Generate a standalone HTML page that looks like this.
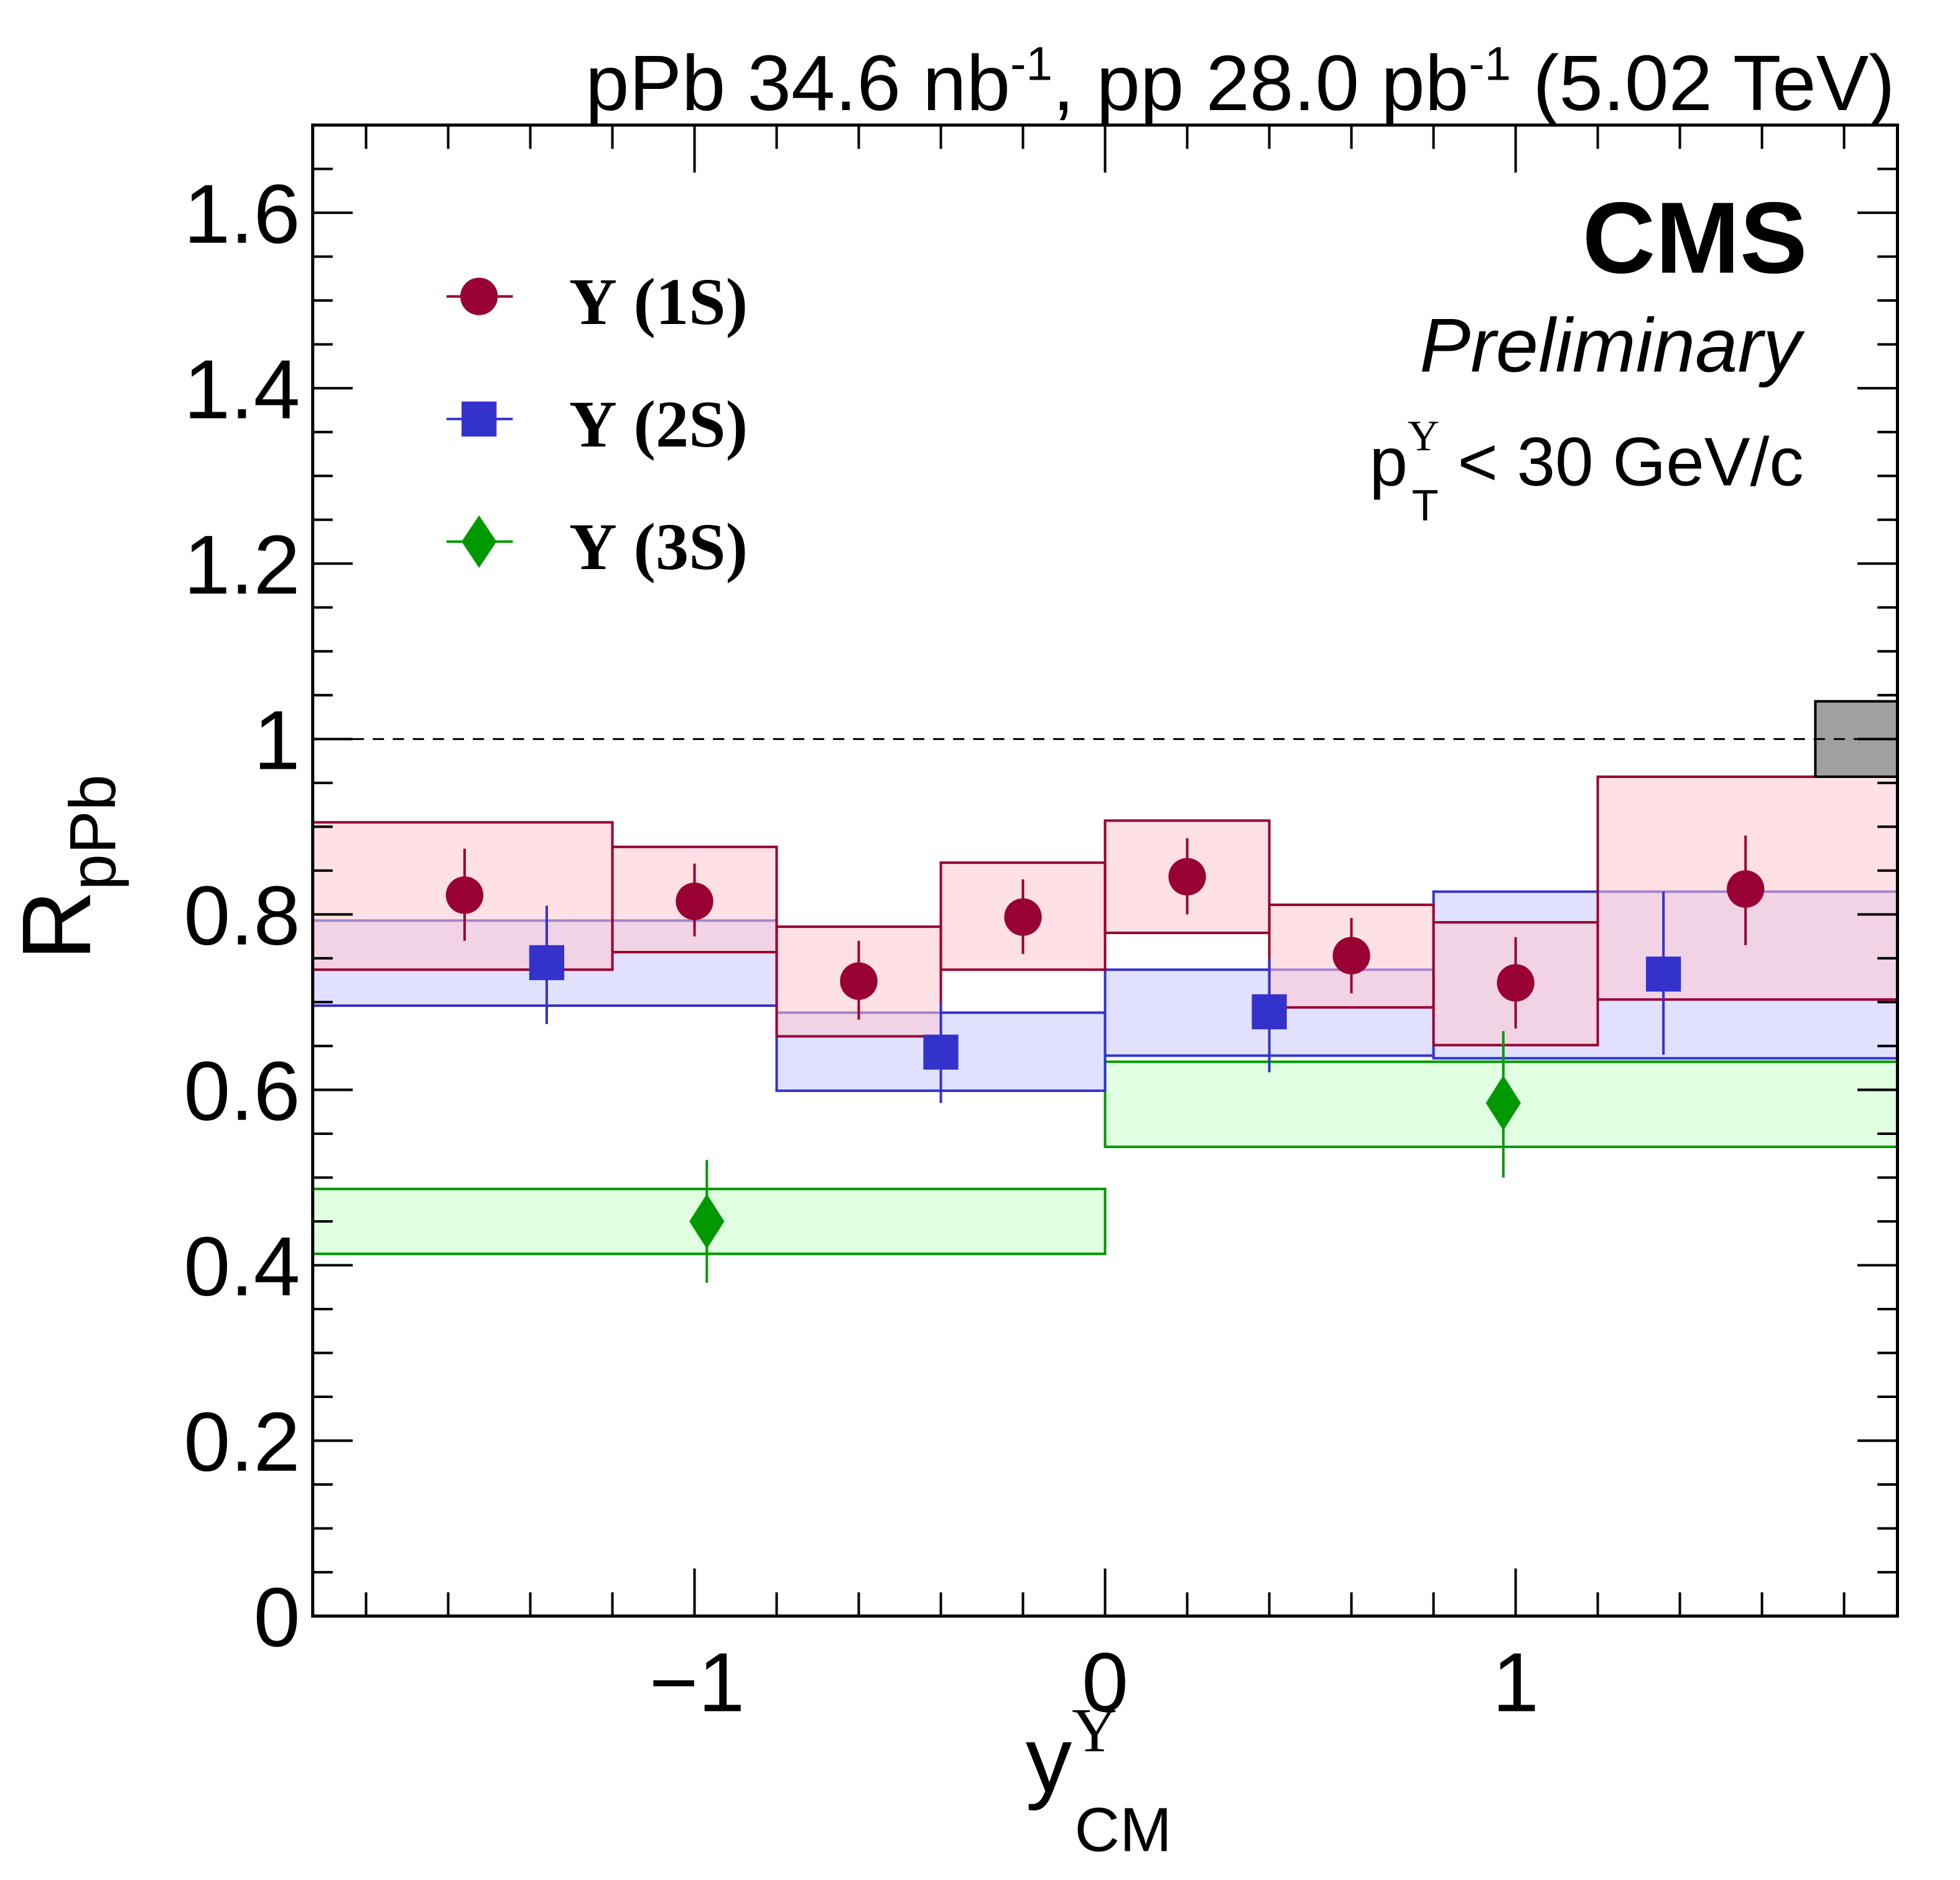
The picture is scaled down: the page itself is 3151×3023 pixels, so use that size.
<!DOCTYPE html>
<html><head><meta charset="utf-8"><style>
html,body{margin:0;padding:0;background:#fff;}
svg{display:block;}
</style></head><body>
<svg id="chart" width="3151" height="3023" viewBox="0 0 1567 1503" preserveAspectRatio="none" xmlns="http://www.w3.org/2000/svg" style="font-family:'Liberation Sans',sans-serif">
<g id="boxes"></g>
<g id="axes"></g>
<g id="marks"></g>
<text x="1515" y="88" font-size="63" text-anchor="end">pPb 34.6 nb<tspan dy="-24" font-size="38">-1</tspan><tspan dy="24">, pp 28.0 pb</tspan><tspan dy="-24" font-size="38">-1</tspan><tspan dy="24"> (5.02 TeV)</tspan></text>
<text x="1445" y="218" font-size="81" font-weight="bold" text-anchor="end">CMS</text>
<text x="1440" y="297" font-size="61" font-style="italic" text-anchor="end">Preliminary</text>
<text x="1442" y="388" font-size="55" text-anchor="end">p<tspan dy="-28" font-size="35" style="font-family:'Liberation Serif',serif">Y</tspan><tspan dx="-22" dy="56" font-size="35">T</tspan><tspan dy="-28"> &lt; 30 GeV/c</tspan></text>
<g>
 <line x1="357" y1="237" x2="410" y2="237" stroke="#990033" stroke-width="2"/><circle cx="383" cy="237" r="15" fill="#990033"/>
 <text x="455" y="259" font-size="53" font-weight="bold" style="font-family:'Liberation Serif',serif">Υ (1S)</text>
 <line x1="357" y1="335" x2="410" y2="335" stroke="#3333cc" stroke-width="2"/><rect x="369" y="321" width="28" height="28" fill="#3333cc"/>
 <text x="455" y="357" font-size="53" font-weight="bold" style="font-family:'Liberation Serif',serif">Υ (2S)</text>
 <line x1="357" y1="433" x2="410" y2="433" stroke="#009900" stroke-width="2"/><polygon points="383,412 397,433 383,454 369,433" fill="#009900"/>
 <text x="455" y="455" font-size="53" font-weight="bold" style="font-family:'Liberation Serif',serif">Υ (3S)</text>
</g>
<text transform="translate(72,768) rotate(-90)" font-size="78">R<tspan dy="20" font-size="52">pPb</tspan></text>
<text x="820" y="1432" font-size="74">y<tspan dy="-32" font-size="50" style="font-family:'Liberation Serif',serif">Y</tspan><tspan dx="-34" dy="80" font-size="50">CM</tspan></text>
</svg>
<script>
const yMin=0,yMax=1.7,xMin=-1.93,xMax=1.93;
const L=250,R=1517,T=100,B=1292;
const binsLo1=[-1.93,-1.2,-0.8,-0.4,0,0.4,0.8,1.2];
const binsHi1=[-1.2,-0.8,-0.4,0,0.4,0.8,1.2,1.93];
const x1S=[-1.56,-1.0,-0.6,-0.2,0.2,0.6,1.0,1.56];
const val1S=[0.822,0.815,0.724,0.797,0.843,0.753,0.722,0.829];
const errLo1S=[0.77,0.775,0.68,0.755,0.8,0.71,0.67,0.765];
const errHi1S=[0.875,0.858,0.77,0.84,0.887,0.796,0.774,0.89];
const sysLo1S=[0.737,0.757,0.661,0.737,0.779,0.694,0.651,0.703];
const sysHi1S=[0.905,0.877,0.786,0.859,0.907,0.811,0.791,0.957];
const binsLo2=[-1.93,-0.8,0,0.8];
const binsHi2=[-0.8,0,0.8,1.93];
const x2S=[-1.36,-0.4,0.4,1.36];
const val2S=[0.745,0.643,0.689,0.732];
const errLo2S=[0.675,0.585,0.62,0.64];
const errHi2S=[0.81,0.7,0.75,0.826];
const sysLo2S=[0.696,0.599,0.639,0.636];
const sysHi2S=[0.793,0.688,0.737,0.826];
const binsLo3=[-1.93,0];
const binsHi3=[0,1.93];
const x3S=[-0.97,0.97];
const val3S=[0.45,0.585];
const errLo3S=[0.38,0.5];
const errHi3S=[0.52,0.667];
const sysLo3S=[0.413,0.535];
const sysHi3S=[0.487,0.632];
const yTicks=[0,0.2,0.4,0.6,0.8,1,1.2,1.4,1.6];
const yTickLabels=["0","0.2","0.4","0.6","0.8","1","1.2","1.4","1.6"];
const xTicks=[-1,0,1];
const xTickLabels=["\u22121","0","1"];
const globalUnc=[0.957,1.043];

const NS="http://www.w3.org/2000/svg";
const sx=v=>L+(v-xMin)/(xMax-xMin)*(R-L);
const sy=v=>B-(v-yMin)/(yMax-yMin)*(B-T);
function mk(parent,tag,attrs){const e=document.createElementNS(NS,tag);for(const k in attrs)e.setAttribute(k,attrs[k]);parent.appendChild(e);return e;}
const boxes=document.getElementById('boxes'),axes=document.getElementById('axes'),marks=document.getElementById('marks');

function drawBoxes(lo,hi,sl,sh,fill,stroke,name){
 for(let i=0;i<lo.length;i++){
  const r=mk(boxes,'rect',{x:sx(lo[i]),y:sy(sh[i]),width:sx(hi[i])-sx(lo[i]),height:sy(sl[i])-sy(sh[i]),fill:fill,'fill-opacity':0.55,stroke:stroke,'stroke-width':2});
  
  
 }
}
drawBoxes(binsLo3,binsHi3,sysLo3S,sysHi3S,'#c8ffc8','#009900','upsilon3s');
drawBoxes(binsLo2,binsHi2,sysLo2S,sysHi2S,'#c8c8ff','#3333cc','upsilon2s');
drawBoxes(binsLo1,binsHi1,sysLo1S,sysHi1S,'#ffc8d0','#990033','upsilon1s');
const g=mk(boxes,'rect',{x:sx(1.73),y:sy(globalUnc[1]),width:sx(1.93)-sx(1.73),height:sy(globalUnc[0])-sy(globalUnc[1]),fill:'#a0a0a0',stroke:'#000','stroke-width':2});



const d=mk(axes,'line',{x1:L,x2:R,y1:sy(1),y2:sy(1),stroke:'#000','stroke-width':1.5,'stroke-dasharray':'9,7'});


const fr=mk(axes,'rect',{x:L,y:T,width:R-L,height:B-T,fill:'none',stroke:'#000','stroke-width':2.5});


for(let k=0;k<=34;k++){
 const v=k*0.05,y=sy(v),len=(k%4===0)?32:16;
 mk(axes,'line',{x1:L,x2:L+len,y1:y,y2:y,stroke:'#000','stroke-width':2});
 mk(axes,'line',{x1:R,x2:R-len,y1:y,y2:y,stroke:'#000','stroke-width':2});
}
for(let k=-9;k<=9;k++){
 const v=k*0.2,x=sx(v),len=(k%5===0)?38:19;
 mk(axes,'line',{x1:x,x2:x,y1:B,y2:B-len,stroke:'#000','stroke-width':2});
 mk(axes,'line',{x1:x,x2:x,y1:T,y2:T+len,stroke:'#000','stroke-width':2});
}
yTicks.forEach((v,i)=>{
 const t=mk(axes,'text',{x:L-10,y:sy(v)+24,'font-size':67,'text-anchor':'end'});
 t.textContent=yTickLabels[i];
 
 
});
xTicks.forEach((v,i)=>{
 const t=mk(axes,'text',{x:sx(v)+(v<0?2:0),y:B+76,'font-size':67,'text-anchor':'middle'});
 t.textContent=xTickLabels[i];
 
 
});

function drawPts(xs,vs,lo,hi,color,shape,name){
 for(let i=0;i<xs.length;i++){
  const x=sx(xs[i]),y=sy(vs[i]);
  const e=mk(marks,'line',{x1:x,x2:x,y1:sy(hi[i]),y2:sy(lo[i]),stroke:color,'stroke-width':2});
  
  
  let m;
  if(shape==='c')m=mk(marks,'circle',{cx:x,cy:y,r:15,fill:color});
  else if(shape==='s')m=mk(marks,'rect',{x:x-14,y:y-14,width:28,height:28,fill:color});
  else m=mk(marks,'polygon',{points:`${x},${y-22} ${x+14},${y} ${x},${y+22} ${x-14},${y}`,fill:color});
  
  
 }
}
drawPts(x1S,val1S,errLo1S,errHi1S,'#990033','c','upsilon1s');
drawPts(x2S,val2S,errLo2S,errHi2S,'#3333cc','s','upsilon2s');
drawPts(x3S,val3S,errLo3S,errHi3S,'#009900','d','upsilon3s');
</script>
</body></html>
